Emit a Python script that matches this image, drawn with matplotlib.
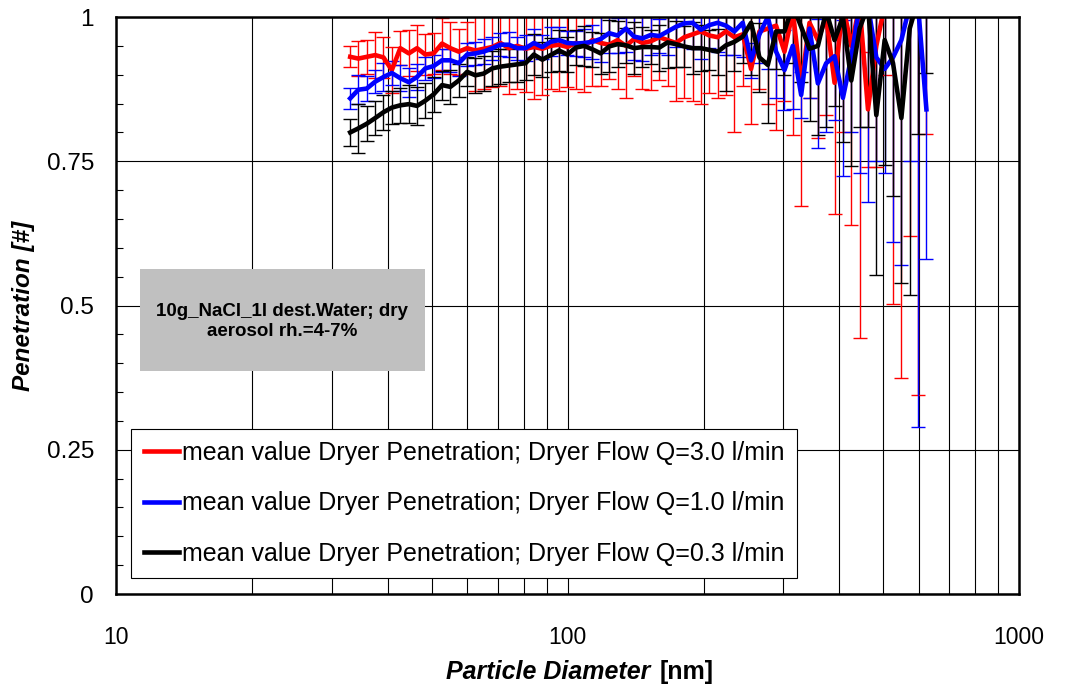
import matplotlib
matplotlib.use('Agg')
import matplotlib.pyplot as plt
from matplotlib.ticker import MultipleLocator, FixedLocator, NullFormatter
from matplotlib.patches import Rectangle

plt.rcParams['font.family'] = ['Liberation Sans', 'DejaVu Sans']

# particle diameter [nm]
diam = [33.0, 34.4, 35.9, 37.5, 39.1, 40.8, 42.6, 44.5, 46.4, 48.4,
        50.5, 52.7, 55.0, 57.4, 59.9, 62.5, 65.2, 68.1, 71.0, 74.1,
        77.4, 80.7, 84.2, 87.9, 91.7, 95.7, 99.9, 104.2, 108.8, 113.5,
        118.4, 123.6, 129.0, 134.6, 140.4, 146.5, 152.9, 159.6, 166.5, 173.7,
        181.3, 189.2, 197.4, 206.0, 215.0, 224.3, 234.1, 244.3, 254.9, 266.0,
        277.6, 289.6, 302.2, 315.4, 329.1, 343.4, 358.4, 373.9, 390.2, 407.2,
        424.9, 443.4, 462.7, 482.8, 503.8, 525.7, 548.6, 572.4, 597.3, 623.3]

# Q = 3.0 l/min
pen_30 = [0.931, 0.928, 0.931, 0.934, 0.930, 0.908, 0.946, 0.937, 0.946, 0.935, 0.937, 0.954, 0.946, 0.940, 0.946,
          0.942, 0.945, 0.948, 0.955, 0.946, 0.950, 0.945, 0.948, 0.945, 0.950, 0.952, 0.948, 0.955, 0.950, 0.960,
          0.955, 0.952, 0.960, 0.950, 0.962, 0.955, 0.958, 0.965, 0.960, 0.955, 0.965, 0.970, 0.975, 0.968, 0.965,
          0.975, 0.965, 0.970, 0.910, 0.975, 0.980, 0.985, 0.940, 1.010, 0.882, 0.990, 0.960,
          1.000, 0.886, 1.020, 0.950, 1.020, 0.840, 0.950, 1.020, 1.020, 1.020, 1.020, 1.020, 1.020]
err_30 = [0.018, 0.030, 0.030, 0.040, 0.035, 0.040, 0.030, 0.040, 0.040, 0.035, 0.035, 0.045, 0.045, 0.040, 0.045,
          0.070, 0.070, 0.070, 0.075, 0.080, 0.075, 0.075, 0.090, 0.080, 0.075, 0.080, 0.070, 0.080, 0.080, 0.080,
          0.075, 0.060, 0.085, 0.090, 0.065, 0.080, 0.085, 0.075, 0.080, 0.100, 0.105, 0.115, 0.125, 0.100, 0.105,
          0.110, 0.165, 0.090, 0.095, 0.100, 0.130, 0.180, 0.085, 0.215, 0.210, 0.130, 0.170,
          0.170, 0.227, 0.220, 0.310, 0.576, 0.100, 0.210, 0.120, 0.518, 0.645, 0.400, 0.675, 0.223]

# Q = 1.0 l/min
pen_10 = [0.859, 0.874, 0.876, 0.888, 0.896, 0.903, 0.894, 0.887, 0.896, 0.911, 0.915, 0.925, 0.925, 0.920, 0.935,
          0.937, 0.940, 0.946, 0.952, 0.952, 0.946, 0.946, 0.955, 0.948, 0.957, 0.960, 0.955, 0.954, 0.955, 0.957,
          0.962, 0.972, 0.968, 0.980, 0.966, 0.963, 0.969, 0.967, 0.975, 0.983, 0.989, 0.990, 0.978, 0.986, 0.990,
          0.985, 0.975, 0.990, 0.925, 0.970, 1.000, 0.940, 0.908, 0.950, 0.865, 0.980,
          0.885, 0.920, 0.932, 0.860, 0.930, 1.020, 1.020, 0.930, 0.910, 0.930, 0.960, 1.020, 1.020, 0.840]
err_10 = [0.018, 0.025, 0.022, 0.020, 0.025, 0.020, 0.022, 0.025, 0.022, 0.020, 0.020, 0.020, 0.020, 0.022, 0.020,
          0.020, 0.022, 0.020, 0.020, 0.022, 0.020, 0.022, 0.025, 0.020, 0.025, 0.022, 0.020, 0.022, 0.025, 0.030,
          0.040, 0.035, 0.030, 0.040, 0.040, 0.040, 0.035, 0.030, 0.040, 0.035, 0.040, 0.045, 0.050, 0.040, 0.050,
          0.050, 0.040, 0.060, 0.030, 0.050, 0.090, 0.080, 0.070, 0.110, 0.040, 0.120,
          0.112, 0.120, 0.110, 0.135, 0.130, 0.290, 0.340, 0.180, 0.180, 0.320, 0.390, 0.270, 0.730, 0.260]

# Q = 0.3 l/min
pen_03 = [0.800, 0.807, 0.815, 0.825, 0.835, 0.843, 0.847, 0.849, 0.846, 0.855, 0.866, 0.882, 0.879, 0.890, 0.905,
          0.899, 0.902, 0.911, 0.914, 0.916, 0.918, 0.920, 0.935, 0.926, 0.934, 0.942, 0.935, 0.947, 0.950, 0.944,
          0.937, 0.949, 0.953, 0.951, 0.946, 0.948, 0.948, 0.947, 0.956, 0.953, 0.949, 0.946, 0.946, 0.943, 0.940,
          0.951, 0.957, 0.966, 0.990, 0.930, 0.917, 0.975, 0.975, 1.020, 0.983, 0.945, 0.950,
          1.010, 0.960, 1.000, 0.890, 0.980, 1.020, 0.830, 0.960, 0.920, 0.825, 0.980, 1.030, 1.020]
err_03 = [0.023, 0.043, 0.030, 0.030, 0.030, 0.028, 0.030, 0.033, 0.033, 0.030, 0.030, 0.025, 0.030, 0.028, 0.025,
          0.030, 0.030, 0.030, 0.030, 0.028, 0.030, 0.030, 0.035, 0.030, 0.030, 0.035, 0.030, 0.030, 0.035, 0.030,
          0.035, 0.045, 0.040, 0.030, 0.045, 0.035, 0.030, 0.040, 0.045, 0.040, 0.035, 0.045, 0.040, 0.035, 0.040,
          0.080, 0.050, 0.045, 0.090, 0.060, 0.100, 0.065, 0.075, 0.100, 0.095, 0.125, 0.155,
          0.200, 0.115, 0.217, 0.148, 0.170, 0.210, 0.277, 0.216, 0.230, 0.286, 0.462, 0.233, 0.117]

labels = ['mean value Dryer Penetration; Dryer Flow Q=3.0 l/min',
          'mean value Dryer Penetration; Dryer Flow Q=1.0 l/min',
          'mean value Dryer Penetration; Dryer Flow Q=0.3 l/min']
colors = ['#ff0000', '#0000ff', '#000000']
series = [(pen_30, err_30), (pen_10, err_10), (pen_03, err_03)]

fig = plt.figure(figsize=(10.75, 6.92), dpi=100)
ax = fig.add_axes([0.108, 0.1416, 0.84, 0.8338])

for (pen, err), col, lab in zip(series, colors, labels):
    ax.errorbar(diam, pen, yerr=err, fmt='none', ecolor=col, elinewidth=1.0,
                capsize=5, capthick=1.0, zorder=3)
    ax.plot(diam, pen, color=col, lw=3.3, label=lab, zorder=4)

ax.set_xscale('log')
ax.set_xlim(10, 1000)
ax.set_ylim(0, 1)

ax.yaxis.set_major_locator(FixedLocator([0, 0.25, 0.5, 0.75, 1]))
ax.set_yticklabels(['0', '0.25', '0.5', '0.75', '1'])
ax.yaxis.set_minor_locator(MultipleLocator(0.05))
ax.xaxis.set_minor_formatter(NullFormatter())
ax.set_xticks([10, 100, 1000])
ax.set_xticklabels(['10', '100', '1000'])

ax.grid(True, which='major', axis='both', color='black', lw=0.8)
ax.grid(True, which='minor', axis='x', color='black', lw=0.8)
ax.set_axisbelow(True)

ax.tick_params(axis='x', which='both', length=0, labelsize=16.5, pad=23)
ax.tick_params(axis='y', which='major', length=0, labelsize=17.5, pad=16)
ax.tick_params(axis='y', which='minor', direction='in', length=5, width=0.8)
for s in ax.spines.values():
    s.set_linewidth(1.8)
    s.set_zorder(6)

ax.set_ylabel('Penetration [#]', fontsize=17.5, fontweight='bold', style='italic', labelpad=8)
fig.text(650 / 1075, 20 / 692, 'Particle Diameter', fontsize=18, fontweight='bold',
         style='italic', ha='right', va='center')
fig.text(660 / 1075, 20 / 692, '[nm]', fontsize=18, fontweight='bold', ha='left', va='center')

# info box
ax.add_patch(Rectangle((0.0266, 0.3865), 0.3156, 0.1768, transform=ax.transAxes,
                       facecolor='#c0c0c0', edgecolor='none', zorder=2))
ax.text(0.184, 0.472, '10g_NaCl_1l dest.Water; dry\naerosol rh.=4-7%', transform=ax.transAxes,
        ha='center', va='center', fontsize=13.5, fontweight='bold', linespacing=1.25, zorder=5)

leg = ax.legend(loc='lower left', bbox_to_anchor=(0.0166, 0.0277), fontsize=18,
                frameon=True, fancybox=False, framealpha=1, edgecolor='black',
                borderaxespad=0, handlelength=1.4, handletextpad=0.15, labelspacing=1.05,
                borderpad=0.5)
leg.get_frame().set_linewidth(0.8)
leg.set_zorder(7)

fig.savefig('out.png', dpi=100)
